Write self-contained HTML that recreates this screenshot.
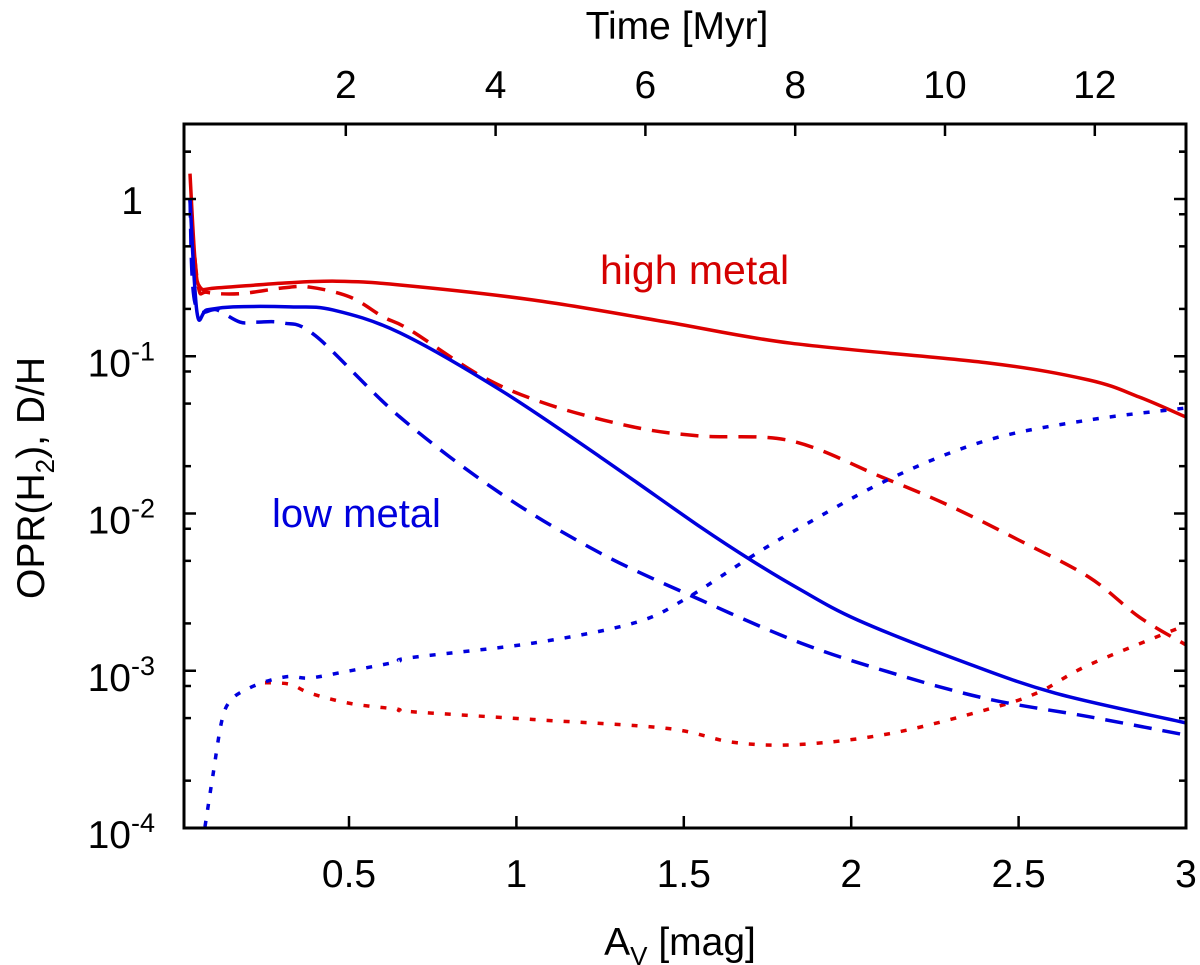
<!DOCTYPE html>
<html><head><meta charset="utf-8"><style>
html,body{margin:0;padding:0;background:#fff;}
svg{display:block;font-family:"Liberation Sans",Arial,sans-serif;}
</style></head><body>
<svg id="chart" width="1200" height="965" viewBox="0 0 1200 965">
<g id="curves"></g>
<rect x="184" y="124" width="1002" height="704" fill="none" stroke="#000" stroke-width="3"/>
<g id="axes"></g>
<text x="600" y="284" font-size="41" fill="#d40000">high metal</text>
<text x="272" y="527" font-size="40" fill="#0000dd">low metal</text>
<text x="677" y="39" font-size="39" text-anchor="middle">Time [Myr]</text>
<text x="680" y="955" font-size="39" text-anchor="middle">A<tspan font-size="26" dy="10">V</tspan><tspan dy="-10"> [mag]</tspan></text>
<text transform="translate(44,478) rotate(-90)" font-size="39" text-anchor="middle">OPR(H<tspan font-size="26" dy="10">2</tspan><tspan dy="-10">), D/H</tspan></text>
</svg>
<script>
const xTicks=[0.5,1,1.5,2,2.5,3];
const xTickLabels=["0.5","1","1.5","2","2.5","3"];
const timeTicks=[2,4,6,8,10,12];
const yDecades=[0,-1,-2,-3,-4];
const redSolidAv=[0.025,0.04,0.055,0.106,0.303,0.464,0.652,1.05,1.45,1.82,2.41,2.71,2.86,3.0];
const redSolidVal=[1.45,0.41,0.275,0.272,0.292,0.30,0.284,0.228,0.165,0.121,0.0906,0.0706,0.0551,0.041];
const redDashedAv=[0.025,0.049,0.076,0.174,0.303,0.384,0.503,0.602,0.682,0.90,1.10,1.35,1.55,1.82,2.09,2.29,2.50,2.71,2.86,3.0];
const redDashedVal=[0.99,0.284,0.255,0.25,0.272,0.275,0.238,0.178,0.147,0.0738,0.049,0.0355,0.0311,0.029,0.0171,0.0113,0.00678,0.00394,0.0022,0.00146];
const blueSolidAv=[0.025,0.046,0.076,0.154,0.324,0.452,0.652,0.951,1.25,1.55,1.70,1.85,2.02,2.32,2.61,3.0];
const blueSolidVal=[1.0,0.19,0.197,0.206,0.206,0.197,0.141,0.0612,0.0229,0.0082,0.00506,0.00326,0.0021,0.00117,0.00072,0.000466];
const blueDashedAv=[0.025,0.04,0.106,0.174,0.225,0.303,0.40,0.652,0.951,1.25,1.55,1.85,2.12,2.41,2.71,3.0];
const blueDashedVal=[0.99,0.218,0.197,0.165,0.165,0.163,0.135,0.0411,0.0135,0.00561,0.00282,0.0015,0.00097,0.00066,0.00051,0.00039];
const blueDottedAv=[0.070,0.094,0.121,0.150,0.204,0.264,0.324,0.384,0.503,0.643,0.682,1.05,1.35,1.50,1.70,1.85,2.12,2.41,2.71,3.0];
const blueDottedVal=[0.000102,0.00022,0.00049,0.00066,0.00078,0.00087,0.00092,0.0009,0.001,0.00114,0.00121,0.0015,0.00201,0.00282,0.00529,0.0082,0.0168,0.0294,0.0393,0.0469];
const redDottedAv=[0.249,0.324,0.384,0.503,0.643,0.682,1.05,1.45,1.65,1.85,2.12,2.41,2.56,2.71,3.0];
const redDottedVal=[0.00084,0.00082,0.00072,0.00062,0.00057,0.00055,0.00049,0.00043,0.00035,0.00034,0.0004,0.00057,0.00073,0.00109,0.00195];

const NS="http://www.w3.org/2000/svg";
const L=184,R=1186,T=124,B=828;
function xs(a){return 181.6+a*334.8;}
function ys(v){return 199-157.25*Math.log10(v);}
function ts(t){return 196+t*74.9;}
const curves=document.getElementById('curves');
const axes=document.getElementById('axes');
function pathFrom(av,val){
  const p=av.map((a,i)=>[xs(a),ys(val[i])]);
  let d="M"+p[0][0].toFixed(1)+","+p[0][1].toFixed(1);
  for(let i=0;i<p.length-1;i++){
    const p0=p[i>0?i-1:i],p1=p[i],p2=p[i+1],p3=p[i+2<p.length?i+2:i+1];
    const c1=[p1[0]+(p2[0]-p0[0])/6,p1[1]+(p2[1]-p0[1])/6];
    const c2=[p2[0]-(p3[0]-p1[0])/6,p2[1]-(p3[1]-p1[1])/6];
    d+=" C"+c1[0].toFixed(1)+","+c1[1].toFixed(1)+" "+c2[0].toFixed(1)+","+c2[1].toFixed(1)+" "+p2[0].toFixed(1)+","+p2[1].toFixed(1);
  }
  return d;
}
function addCurve(av,val,color,dash,name){
  const el=document.createElementNS(NS,'path');
  el.setAttribute('d',pathFrom(av,val));
  el.setAttribute('fill','none');
  el.setAttribute('stroke',color);
  el.setAttribute('stroke-width','3.5');
  if(dash) el.setAttribute('stroke-dasharray',dash);
  
  
  curves.appendChild(el);
}
const clip=document.createElementNS(NS,'clipPath');clip.setAttribute('id','pc');
const cr=document.createElementNS(NS,'rect');cr.setAttribute('x',L);cr.setAttribute('y',T);cr.setAttribute('width',R-L);cr.setAttribute('height',B-T);
clip.appendChild(cr);document.getElementById('chart').appendChild(clip);
curves.setAttribute('clip-path','url(#pc)');
addCurve(redSolidAv,redSolidVal,'#dd0000',null,'high-metal-opr-line');
addCurve(redDashedAv,redDashedVal,'#dd0000','18 11','high-metal-dashed-line');
addCurve(redDottedAv,redDottedVal,'#dd0000','6 11','high-metal-dotted-line');
addCurve(blueSolidAv,blueSolidVal,'#0000dd',null,'low-metal-opr-line');
addCurve(blueDashedAv,blueDashedVal,'#0000dd','18 11','low-metal-dashed-line');
addCurve(blueDottedAv,blueDottedVal,'#0000dd','6 11','low-metal-dotted-line');

function line(x1,y1,x2,y2,name){
  const el=document.createElementNS(NS,'line');
  el.setAttribute('x1',x1);el.setAttribute('y1',y1);el.setAttribute('x2',x2);el.setAttribute('y2',y2);
  el.setAttribute('stroke','#000');el.setAttribute('stroke-width','2.5');
  
  
  axes.appendChild(el);
}
function text(x,y,s,anchor,name){
  const el=document.createElementNS(NS,'text');
  el.setAttribute('x',x);el.setAttribute('y',y);el.setAttribute('font-size','39');el.setAttribute('text-anchor',anchor);
  el.textContent=s;
  
  
  axes.appendChild(el);
  return el;
}
xTicks.forEach((a,i)=>{
  const x=xs(a);
  line(x,B,x,B-12,'x-tick');
  text(x,887,xTickLabels[i],'middle','x-tick-label');
});
timeTicks.forEach(t=>{
  const x=ts(t);
  line(x,T,x,T+12,'time-tick');
  text(x,98,String(t),'middle','time-tick-label');
});
yDecades.forEach(d=>{
  const y=ys(Math.pow(10,d));
  line(L,y,L+12,y,'y-tick');line(R,y,R-12,y,'y-tick-right');
  [2,5,8].forEach(m=>{
    const yy=ys(m*Math.pow(10,d));
    if(yy>=T&&yy<=B){line(L,yy,L+7,yy,'y-minor-tick');line(R,yy,R-7,yy,'y-minor-tick-right');}
  });
  if(d===-1){const yy=ys(2);line(L,yy,L+7,yy,'y-minor-tick');line(R,yy,R-7,yy,'y-minor-tick-right');}
  let el;
  if(d===0){el=text(143,y+15,'1','end','y-tick-label');}
  else{
    el=text(155,y+20,'','end','y-tick-label');
    const t1=document.createElementNS(NS,'tspan');t1.textContent='10';
    const t2=document.createElementNS(NS,'tspan');t2.textContent=String(d);t2.setAttribute('font-size','27');t2.setAttribute('dy','-16');
    el.appendChild(t1);el.appendChild(t2);
  }
});
</script>
</body></html>
